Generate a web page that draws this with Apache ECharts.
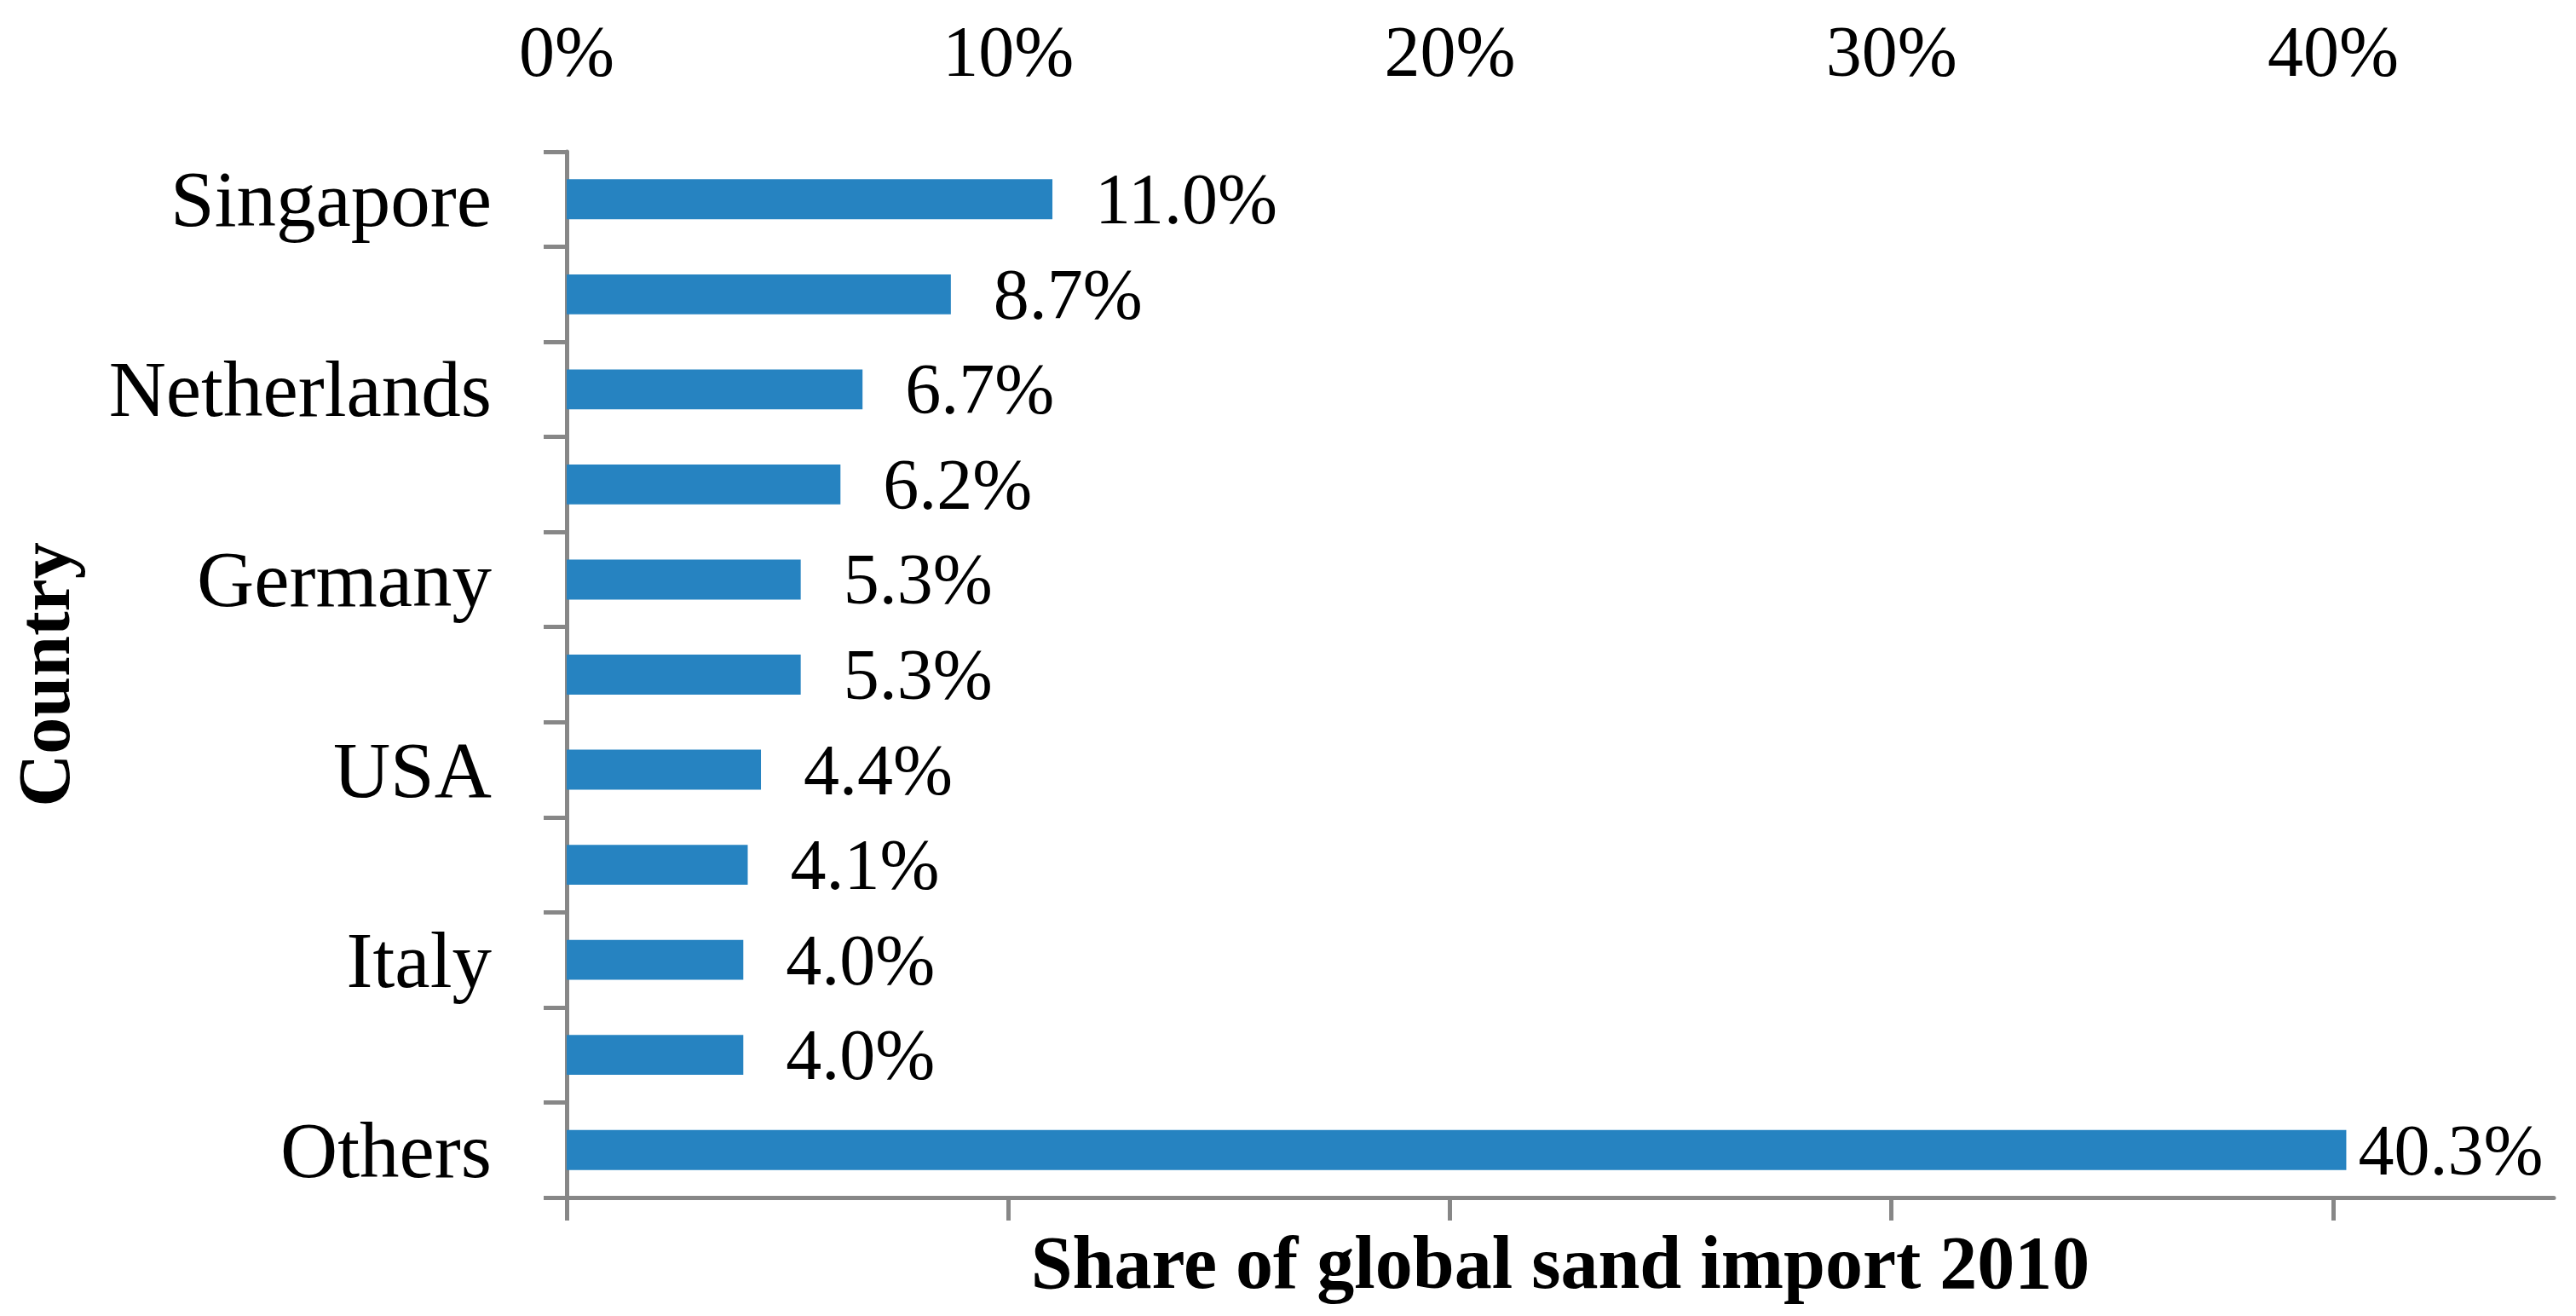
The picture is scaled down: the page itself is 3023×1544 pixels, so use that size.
<!DOCTYPE html>
<html>
<head>
<meta charset="utf-8">
<script src="https://cdn.jsdelivr.net/npm/echarts@6/dist/echarts.min.js"></script>
<style>
  html, body { margin: 0; padding: 0; background: #fff; }
  #chart { width: 3023px; height: 1544px; }
</style>
</head>
<body>
<div id="chart"></div>
<script>
// rows top to bottom; only every other country is labelled in the source
const categories = ['Singapore', '', 'Netherlands', ' ', 'Germany', '  ', 'USA', '   ', 'Italy', '    ', 'Others'];
const shares = [11.0, 8.7, 6.7, 6.2, 5.3, 5.3, 4.4, 4.1, 4.0, 4.0, 40.3];
const tickValues = [0, 10, 20, 30, 40];

const FONT = 'Liberation Serif';
const AXIS_GREY = '#878787';
const BAR = '#2683C1';

const chart = echarts.init(document.getElementById('chart'), null, { renderer: 'svg' });

chart.setOption({
  animation: false,
  textStyle: { fontFamily: FONT, color: '#000' },
  grid: { left: 665, right: 26, top: 178, bottom: 139, outerBoundsMode: 'none', containLabel: false },
  xAxis: [
    {
      type: 'value', position: 'bottom', min: 0, max: 45, interval: 10,
      name: 'Share of global sand import 2010',
      nameLocation: 'middle', nameGap: 32, nameMoveOverlap: false,
      nameTextStyle: { fontFamily: FONT, fontWeight: 'bold', fontSize: 88, color: '#000' },
      axisLine: { show: true, lineStyle: { color: AXIS_GREY, width: 5 } },
      axisTick: { show: true, length: 27, lineStyle: { color: AXIS_GREY, width: 5 }, customValues: tickValues },
      axisLabel: { show: false },
      splitLine: { show: false },
    },
    {
      type: 'value', position: 'top', min: 0, max: 45, interval: 10,
      axisLine: { show: false },
      axisTick: { show: false },
      axisLabel: {
        margin: 76, fontFamily: FONT, fontSize: 84, color: '#000',
        customValues: tickValues,
        formatter: v => v + '%',
      },
      splitLine: { show: false },
    },
  ],
  yAxis: {
    type: 'category', data: categories, inverse: true,
    name: 'Country', nameLocation: 'middle', nameGap: 570, nameRotate: 90, nameMoveOverlap: false,
    nameTextStyle: { fontFamily: FONT, fontWeight: 'bold', fontSize: 86, color: '#000' },
    axisLine: { show: true, lineStyle: { color: AXIS_GREY, width: 5 } },
    axisTick: { show: true, length: 27, lineStyle: { color: AXIS_GREY, width: 5 } },
    axisLabel: { margin: 88, fontFamily: FONT, fontSize: 93, color: '#000', interval: 0 },
  },
  series: [{
    type: 'bar', xAxisIndex: 0,
    // the long "Others" label sits closer to its bar so it fits the frame
    data: shares.map(v => (v > 40 ? { value: v, label: { distance: 14 } } : v)),
    barWidth: '42%',
    itemStyle: { color: BAR },
    label: {
      show: true, position: 'right', distance: 50,
      fontFamily: FONT, fontSize: 84, color: '#000',
      formatter: p => p.value.toFixed(1) + '%',
    },
  }],
});
</script>
</body>
</html>
